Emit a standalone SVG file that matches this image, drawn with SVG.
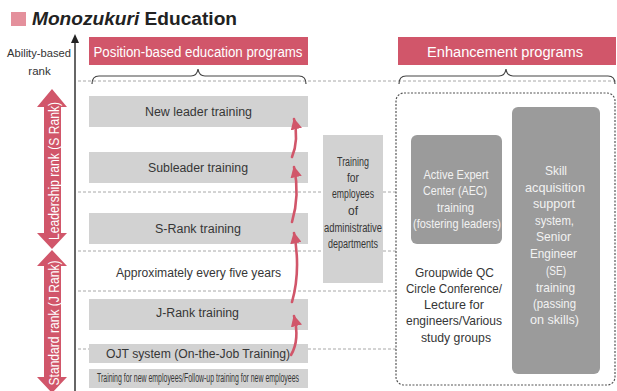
<svg xmlns="http://www.w3.org/2000/svg" width="617" height="391" viewBox="0 0 617 391">
  <defs>
    <style>
      text { font-family: "Liberation Sans", Arial, sans-serif; }
      .hdr { fill: #d1566a; }
      .hdr-t { fill: #ffffff; font-size: 14px; text-anchor: middle; }
      .box { fill: #d2d2d2; }
      .box-t { fill: #363636; font-size: 12.5px; text-anchor: middle; }
      .dark { fill: #9b9b9b; }
      .dark-t { fill: #f2f2f2; font-size: 13px; text-anchor: middle; }
      .plain-t { fill: #363636; font-size: 13px; text-anchor: middle; }
      .guide { stroke: #a8a8a8; stroke-width: 1; stroke-dasharray: 3 2; fill: none; }
      .brace { stroke: #444444; stroke-width: 1.2; fill: none; }
      .step { stroke: #d1566a; stroke-width: 2.6; fill: none; stroke-linecap: round; }
      .rank { fill: #d1566a; }
      .rank-t { fill: #ffffff; font-size: 14px; text-anchor: middle; }
    </style>
    <marker id="stepHead" viewBox="0 0 10 10" refX="9" refY="5" markerWidth="4.4" markerHeight="4.4" orient="auto" markerUnits="strokeWidth">
      <path d="M0,0 L10,5 L0,10 Z" fill="#d1566a"/>
    </marker>
  </defs>

  <!-- title -->
  <g id="title">
    <rect x="11" y="12" width="15" height="14" fill="#e4909c"/>
    <text x="32" y="25" font-size="18" font-weight="bold" fill="#222222" textLength="205" lengthAdjust="spacingAndGlyphs"><tspan font-style="italic">Monozukuri</tspan> Education</text>
  </g>

  <!-- vertical axis -->
  <g id="axis">
    <line x1="75" y1="42" x2="75" y2="391" stroke="#333333" stroke-width="1.5"/>
    <path d="M71,43 L75,34 L79,43 Z" fill="#222222"/>
    <text x="39" y="57" font-size="11.5" fill="#333333" text-anchor="middle" textLength="64" lengthAdjust="spacingAndGlyphs">Ability-based</text>
    <text x="39.5" y="75" font-size="11.5" fill="#333333" text-anchor="middle">rank</text>
  </g>

  <!-- guide lines (drawn beneath the boxes) -->
  <g id="guides">
    <line class="guide" x1="78" y1="81" x2="617" y2="81"/>
    <line class="guide" x1="78" y1="192" x2="397" y2="192"/>
    <line class="guide" x1="78" y1="251" x2="397" y2="251"/>
    <line class="guide" x1="78" y1="291" x2="397" y2="291"/>
    <line class="guide" x1="78" y1="349" x2="397" y2="349"/>
  </g>

  <!-- section headers -->
  <g id="hdr-position">
    <rect class="hdr" x="89" y="37" width="219" height="28"/>
    <text class="hdr-t" x="198" y="57" textLength="209" lengthAdjust="spacingAndGlyphs">Position-based education programs</text>
  </g>
  <g id="hdr-enhancement">
    <rect class="hdr" x="398" y="37" width="218" height="28"/>
    <text class="hdr-t" x="505" y="57" textLength="156" lengthAdjust="spacingAndGlyphs">Enhancement programs</text>
  </g>

  <!-- braces -->
  <g id="braces">
    <path class="brace" d="M92,84 Q92,76 99,76 L191,76 Q197,76 198,69 Q199,76 205,76 L299,76 Q306,76 306,84"/>
    <path class="brace" d="M399,84 Q399,76 406,76 L499,76 Q505,76 506,69 Q507,76 513,76 L608,76 Q615,76 615,84"/>
  </g>

  <!-- rank arrows -->
  <g id="rank-leadership">
    <path class="rank" d="M52,89 L67,107 L61,107 L61,233 L67,233 L52,249 L37,233 L44,233 L44,107 L37,107 Z"/>
    <text class="rank-t" transform="translate(58.5,171) rotate(-90)" textLength="138" lengthAdjust="spacingAndGlyphs">Leadership rank (S Rank)</text>
  </g>
  <g id="rank-standard">
    <path class="rank" d="M52,250 L67,266 L61,266 L61,377 L67,377 L52,393 L37,377 L44,377 L44,266 L37,266 Z"/>
    <text class="rank-t" transform="translate(58.5,323) rotate(-90)" textLength="125" lengthAdjust="spacingAndGlyphs">Standard rank (J Rank)</text>
  </g>

  <!-- position-based programs -->
  <g id="new-leader">
    <rect class="box" x="89" y="96" width="219" height="31"/>
    <text class="box-t" x="198.5" y="116" textLength="107" lengthAdjust="spacingAndGlyphs">New leader training</text>
  </g>
  <g id="subleader">
    <rect class="box" x="89" y="152" width="219" height="31"/>
    <text class="box-t" x="198" y="172" textLength="100" lengthAdjust="spacingAndGlyphs">Subleader training</text>
  </g>
  <g id="s-rank">
    <rect class="box" x="89" y="213" width="219" height="31"/>
    <text class="box-t" x="198" y="233" textLength="86" lengthAdjust="spacingAndGlyphs">S-Rank training</text>
  </g>
  <g id="interval">
    <text class="box-t" x="198.5" y="277" textLength="165" lengthAdjust="spacingAndGlyphs">Approximately every five years</text>
  </g>
  <g id="j-rank">
    <rect class="box" x="89" y="299" width="219" height="31"/>
    <text class="box-t" x="197.5" y="317" textLength="83" lengthAdjust="spacingAndGlyphs">J-Rank training</text>
  </g>
  <g id="ojt">
    <rect class="box" x="89" y="344" width="219" height="19"/>
    <text class="box-t" x="198" y="358" textLength="184" lengthAdjust="spacingAndGlyphs">OJT system (On-the-Job Training)</text>
  </g>
  <g id="new-employees">
    <rect class="box" x="89" y="369" width="219" height="19"/>
    <text class="box-t" x="198" y="382" font-size="11" textLength="202" lengthAdjust="spacingAndGlyphs">Training for new employees/Follow-up training for new employees</text>
  </g>

  <!-- administrative departments -->
  <g id="admin">
    <rect class="box" x="323" y="135" width="60" height="148"/>
    <g class="box-t" font-size="12.5">
      <text x="353" y="166" textLength="32" lengthAdjust="spacingAndGlyphs">Training</text>
      <text x="353" y="182" textLength="12" lengthAdjust="spacingAndGlyphs">for</text>
      <text x="353" y="198" textLength="42" lengthAdjust="spacingAndGlyphs">employees</text>
      <text x="353" y="215" textLength="10" lengthAdjust="spacingAndGlyphs">of</text>
      <text x="353" y="232" textLength="58" lengthAdjust="spacingAndGlyphs">administrative</text>
      <text x="353" y="248" textLength="50" lengthAdjust="spacingAndGlyphs">departments</text>
    </g>
  </g>

  <!-- progression arrows -->
  <g id="connectors">
    <path class="step" d="M292,157 Q299,140 294,119" marker-end="url(#stepHead)"/>
    <path class="step" d="M292,222 Q300,195 294,167" marker-end="url(#stepHead)"/>
    <path class="step" d="M292,302 Q301,270 294,233" marker-end="url(#stepHead)"/>
    <path class="step" d="M291,355 Q300,340 294,316" marker-end="url(#stepHead)"/>
  </g>

  <!-- enhancement programs -->
  <g id="enhancement-frame">
    <rect x="396" y="93" width="219" height="292" rx="8" ry="8" fill="none" stroke="#555555" stroke-width="1.2" stroke-dasharray="2 1.5"/>
  </g>
  <g id="aec">
    <rect class="dark" x="411" y="135" width="91" height="109" rx="6" ry="6"/>
    <text class="dark-t" x="456" y="179" textLength="65" lengthAdjust="spacingAndGlyphs">Active Expert</text>
    <text class="dark-t" x="455" y="195" textLength="64" lengthAdjust="spacingAndGlyphs">Center (AEC)</text>
    <text class="dark-t" x="455.5" y="212" textLength="37" lengthAdjust="spacingAndGlyphs">training</text>
    <text class="dark-t" x="457" y="228" textLength="88" lengthAdjust="spacingAndGlyphs">(fostering leaders)</text>
  </g>
  <g id="skill">
    <rect class="dark" x="512" y="107" width="88" height="267" rx="6" ry="6"/>
    <g class="dark-t" font-size="14">
      <text x="556" y="175" textLength="22" lengthAdjust="spacingAndGlyphs">Skill</text>
      <text x="555" y="192" textLength="60" lengthAdjust="spacingAndGlyphs">acquisition</text>
      <text x="554" y="208" textLength="42" lengthAdjust="spacingAndGlyphs">support</text>
      <text x="554.5" y="225" textLength="39" lengthAdjust="spacingAndGlyphs">system,</text>
      <text x="553.5" y="241" textLength="35" lengthAdjust="spacingAndGlyphs">Senior</text>
      <text x="553.5" y="258" textLength="47" lengthAdjust="spacingAndGlyphs">Engineer</text>
      <text x="556" y="275" textLength="20" lengthAdjust="spacingAndGlyphs">(SE)</text>
      <text x="555.5" y="292" textLength="39" lengthAdjust="spacingAndGlyphs">training</text>
      <text x="554.5" y="308" textLength="43" lengthAdjust="spacingAndGlyphs">(passing</text>
      <text x="554.5" y="324" textLength="49" lengthAdjust="spacingAndGlyphs">on skills)</text>
    </g>
  </g>
  <g id="groupwide">
    <g class="plain-t" font-size="13.5">
      <text x="454.5" y="277" textLength="79" lengthAdjust="spacingAndGlyphs">Groupwide QC</text>
      <text x="454" y="293" textLength="96" lengthAdjust="spacingAndGlyphs">Circle Conference/</text>
      <text x="454" y="309" textLength="60" lengthAdjust="spacingAndGlyphs">Lecture for</text>
      <text x="454" y="325" textLength="96" lengthAdjust="spacingAndGlyphs">engineers/Various</text>
      <text x="456" y="342" textLength="70" lengthAdjust="spacingAndGlyphs">study groups</text>
    </g>
  </g>
</svg>
